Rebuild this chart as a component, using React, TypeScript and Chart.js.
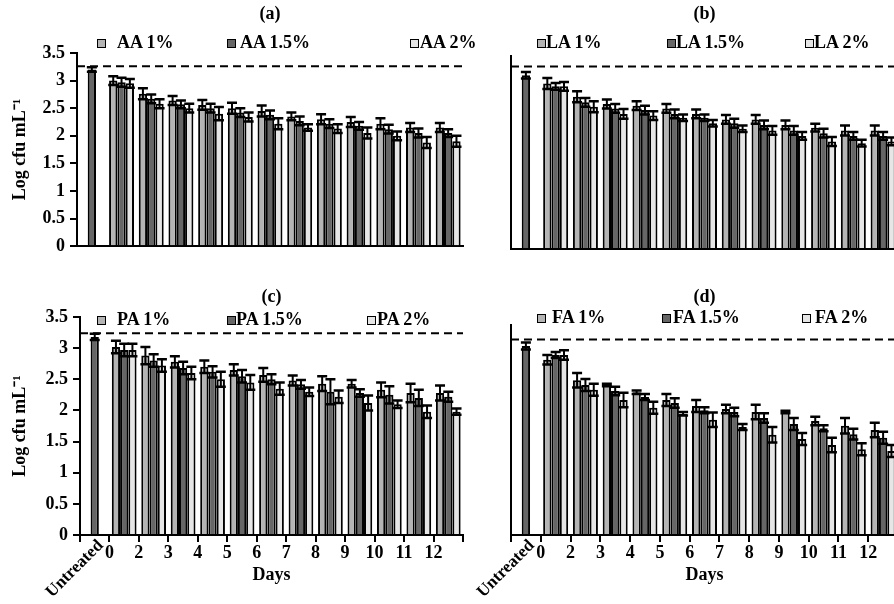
import React, { useEffect, useRef } from 'react';
import { Chart, registerables } from 'chart.js';

Chart.register(...registerables);

// ---------- data ----------
const categories = ['Untreated', '0', '2', '3', '4', '5', '6', '7', '8', '9', '10', '11', '12'];

const aaLabels = ['AA 1%', 'AA 1.5%', 'AA 2%'];
const aa1 = [null, 3.0, 2.76, 2.64, 2.56, 2.5, 2.45, 2.35, 2.3, 2.25, 2.22, 2.15, 2.15];
const aa15 = [3.2, 2.97, 2.67, 2.57, 2.5, 2.42, 2.38, 2.27, 2.22, 2.18, 2.12, 2.05, 2.05];
const aa2 = [null, 2.95, 2.58, 2.5, 2.4, 2.34, 2.22, 2.15, 2.13, 2.05, 2.0, 1.88, 1.9];
const aa1Err = [null, 0.08, 0.1, 0.08, 0.09, 0.1, 0.1, 0.07, 0.09, 0.09, 0.1, 0.08, 0.08];
const aa15Err = [0.04, 0.08, 0.08, 0.07, 0.08, 0.08, 0.08, 0.08, 0.08, 0.07, 0.08, 0.08, 0.07];
const aa2Err = [null, 0.08, 0.08, 0.08, 0.12, 0.08, 0.1, 0.06, 0.08, 0.1, 0.08, 0.1, 0.1];
const aaControl = 3.26;

const laLabels = ['LA 1%', 'LA 1.5%', 'LA 2%'];
const la1 = [null, 3.0, 2.76, 2.63, 2.6, 2.55, 2.45, 2.35, 2.35, 2.25, 2.2, 2.15, 2.15];
const la15 = [3.15, 2.95, 2.66, 2.55, 2.52, 2.45, 2.38, 2.28, 2.25, 2.15, 2.1, 2.05, 2.05];
const la2 = [null, 2.95, 2.58, 2.45, 2.42, 2.38, 2.28, 2.18, 2.15, 2.05, 1.95, 1.92, 1.95];
const la1Err = [null, 0.1, 0.1, 0.08, 0.08, 0.08, 0.08, 0.08, 0.08, 0.08, 0.07, 0.09, 0.09];
const la15Err = [0.06, 0.06, 0.08, 0.08, 0.08, 0.08, 0.06, 0.08, 0.08, 0.08, 0.08, 0.07, 0.07];
const la2Err = [null, 0.08, 0.1, 0.09, 0.08, 0.06, 0.06, 0.06, 0.08, 0.07, 0.08, 0.06, 0.07];
const laControl = 3.31;

const paLabels = ['PA 1%', 'PA 1.5%', 'PA 2%'];
const pa1 = [null, 3.02, 2.88, 2.78, 2.7, 2.65, 2.57, 2.48, 2.43, 2.43, 2.33, 2.28, 2.28];
const pa15 = [3.18, 2.97, 2.8, 2.68, 2.62, 2.55, 2.5, 2.42, 2.3, 2.28, 2.25, 2.2, 2.22];
const pa2 = [null, 2.97, 2.72, 2.6, 2.5, 2.45, 2.35, 2.3, 2.22, 2.12, 2.1, 1.98, 1.98];
const pa1Err = [null, 0.1, 0.14, 0.09, 0.1, 0.09, 0.11, 0.08, 0.12, 0.06, 0.12, 0.15, 0.12];
const pa15Err = [0.05, 0.1, 0.1, 0.1, 0.09, 0.1, 0.08, 0.07, 0.2, 0.06, 0.14, 0.13, 0.08];
const pa2Err = [null, 0.1, 0.1, 0.1, 0.12, 0.12, 0.1, 0.07, 0.1, 0.12, 0.06, 0.1, 0.05];
const paControl = 3.24;

const faLabels = ['FA 1%', 'FA 1.5%', 'FA 2%'];
const fa1 = [null, 2.92, 2.58, 2.5, 2.38, 2.25, 2.15, 2.1, 2.05, 2.05, 1.9, 1.82, 1.75];
const fa15 = [3.15, 3.0, 2.5, 2.4, 2.3, 2.2, 2.08, 2.05, 1.95, 1.85, 1.78, 1.68, 1.62];
const fa2 = [null, 3.0, 2.42, 2.25, 2.12, 2.02, 1.92, 1.8, 1.67, 1.6, 1.5, 1.43, 1.4];
const fa1Err = [null, 0.08, 0.12, 0.02, 0.03, 0.1, 0.1, 0.07, 0.12, 0.02, 0.07, 0.13, 0.12];
const fa15Err = [0.06, 0.05, 0.1, 0.07, 0.05, 0.08, 0.05, 0.07, 0.08, 0.1, 0.05, 0.09, 0.1];
const fa2Err = [null, 0.08, 0.1, 0.12, 0.1, 0.03, 0.12, 0.05, 0.13, 0.1, 0.12, 0.1, 0.1];
const faControl = 3.26;

const yMax = 3.5;
const yStep = 0.5;
const yTitle = 'Log cfu mL⁻¹';
const xTitle = 'Days';

// ---------- styles ----------
const FONT = '"Liberation Serif", "Times New Roman", serif';
const seriesColors = ['#b4b4b4', '#666666', '#e6e6e6'];

const errorBarsPlugin = {
  id: 'errorBars',
  afterDatasetsDraw(chart: any, _args: any, opts: any) {
    const errs = opts.errors || [];
    const y = chart.scales.y;
    const ctx = chart.ctx;
    ctx.save();
    ctx.strokeStyle = '#000';
    chart.data.datasets.forEach((ds: any, i: number) => {
      const meta = chart.getDatasetMeta(i);
      meta.data.forEach((el: any, j: number) => {
        const v = ds.data[j];
        const e = errs[i] ? errs[i][j] : null;
        if (v == null || e == null) return;
        const top = y.getPixelForValue(v + e);
        const bot = y.getPixelForValue(v - e);
        const x = el.x;
        const half = 5;
        ctx.lineWidth = 2;
        ctx.beginPath();
        ctx.moveTo(x, top);
        ctx.lineTo(x, bot);
        ctx.stroke();
        ctx.lineWidth = 2.5;
        ctx.beginPath();
        ctx.moveTo(x - half, top);
        ctx.lineTo(x + half, top);
        ctx.moveTo(x - half, bot);
        ctx.lineTo(x + half, bot);
        ctx.stroke();
      });
    });
    ctx.restore();
  },
};

const controlLinePlugin = {
  id: 'controlLine',
  afterDatasetsDraw(chart: any, _args: any, opts: any) {
    if (opts.value == null) return;
    const { ctx, chartArea } = chart;
    const yy = chart.scales.y.getPixelForValue(opts.value);
    ctx.save();
    ctx.strokeStyle = '#000';
    ctx.lineWidth = 2;
    ctx.setLineDash([8, 5]);
    ctx.beginPath();
    ctx.moveTo(chartArea.left, yy);
    ctx.lineTo(chartArea.right, yy);
    ctx.stroke();
    ctx.restore();
  },
};

const untreatedLabelPlugin = {
  id: 'untreatedLabel',
  afterDraw(chart: any, _args: any, opts: any) {
    if (!opts.display) return;
    const xs = chart.scales.x;
    const x = xs.getPixelForValue(0) + 6;
    const yy = xs.top + 8;
    const ctx = chart.ctx;
    ctx.save();
    ctx.translate(x, yy);
    ctx.rotate(-Math.PI / 4);
    ctx.font = `bold 17px ${FONT}`;
    ctx.fillStyle = '#000';
    ctx.textAlign = 'right';
    ctx.textBaseline = 'middle';
    ctx.fillText(opts.text, 0, 0);
    ctx.restore();
  },
};

type LegendPos = { y: number; items: { box: number; text: number }[] };

type PanelDef = {
  left: number;
  top: number;
  width: number;
  height: number;
  title: string;
  labels: string[];
  series: (number | null)[][];
  errors: (number | null)[][];
  control: number;
  showY: boolean;
  showX: boolean;
  yWidth: number;
  xHeight: number;
  rightPad: number;
  titlePad: { top: number; bottom: number };
  legend: LegendPos;
};

function Panel({ p }: { p: PanelDef }) {
  const ref = useRef<HTMLCanvasElement | null>(null);
  useEffect(() => {
    if (!ref.current) return;
    const font = { family: FONT, size: 18, weight: 'bold' as const };
    const chart = new Chart(ref.current, {
      type: 'bar',
      data: {
        labels: categories,
        datasets: p.series.map((d, i) => ({
          label: p.labels[i],
          data: d as any,
          backgroundColor: seriesColors[i],
          borderColor: '#000',
          borderWidth: 2,
          categoryPercentage: 0.84,
          barPercentage: 1,
        })),
      },
      options: {
        animation: false,
        responsive: false,
        devicePixelRatio: 1,
        layout: { padding: { left: 0, right: p.rightPad, top: 0, bottom: 0 } },
        plugins: {
          legend: { display: false },
          tooltip: { enabled: false },
          title: {
            display: true,
            text: p.title,
            fullSize: false,
            color: '#000',
            font,
            padding: p.titlePad,
          },
          errorBars: { errors: p.errors },
          controlLine: { value: p.control },
          untreatedLabel: { display: p.showX, text: categories[0] },
        } as any,
        scales: {
          x: {
            grid: {
              display: true,
              drawOnChartArea: false,
              drawTicks: p.showX,
              tickLength: 7,
              color: '#000',
              lineWidth: 2,
              offset: true,
            },
            border: { display: true, color: '#000', width: 2 },
            ticks: {
              display: p.showX,
              color: '#000',
              font,
              autoSkip: false,
              maxRotation: 0,
              minRotation: 0,
              padding: 1,
              labelOffset: -14.8,
              callback: (_v: any, i: number) => (i === 0 ? '' : categories[i]),
            },
            title: {
              display: p.showX,
              text: xTitle,
              color: '#000',
              font,
              padding: { top: 0, bottom: 18 },
            },
            afterFit: (s: any) => {
              s.height = p.xHeight;
            },
          },
          y: {
            min: 0,
            max: yMax,
            grid: {
              display: true,
              drawOnChartArea: false,
              drawTicks: p.showY,
              tickLength: 7,
              color: '#000',
              lineWidth: 2,
            },
            border: { display: true, color: '#000', width: 2 },
            ticks: {
              display: p.showY,
              stepSize: yStep,
              color: '#000',
              font,
              padding: 5,
              callback: (v: any) => String(Number(v)),
            },
            title: {
              display: p.showY,
              text: yTitle,
              color: '#000',
              font,
              padding: { top: 10, bottom: 0 },
            },
            afterFit: (s: any) => {
              s.width = p.yWidth;
            },
          },
        },
      },
      plugins: [errorBarsPlugin, controlLinePlugin, untreatedLabelPlugin],
    });
    return () => chart.destroy();
  }, [p]);

  return (
    <>
      <canvas
        ref={ref}
        width={p.width}
        height={p.height}
        style={{ position: 'absolute', left: p.left, top: p.top, width: p.width, height: p.height }}
      />
      {p.legend.items.map((it, i) => (
        <React.Fragment key={i}>
          <div
            style={{
              position: 'absolute',
              left: it.box,
              top: p.legend.y - 4,
              width: 9,
              height: 9,
              boxSizing: 'border-box',
              border: '1.5px solid #000',
              background: seriesColors[i],
            }}
          />
          <div
            style={{
              position: 'absolute',
              left: it.text,
              top: p.legend.y - 11,
              height: 22,
              lineHeight: '22px',
              font: `bold 18px ${FONT}`,
              color: '#000',
              whiteSpace: 'nowrap',
            }}
          >
            {p.labels[i]}
          </div>
        </React.Fragment>
      ))}
    </>
  );
}

const panels: PanelDef[] = [
  {
    left: 0, top: 0, width: 470, height: 262, title: '(a)', labels: aaLabels,
    series: [aa1, aa15, aa2], errors: [aa1Err, aa15Err, aa2Err], control: aaControl,
    showY: true, showX: false, yWidth: 77, xHeight: 11, rightPad: 7,
    titlePad: { top: 4, bottom: 27.4 },
    legend: { y: 43, items: [{ box: 97, text: 117 }, { box: 227, text: 240 }, { box: 410, text: 420 }] },
  },
  {
    left: 440, top: 0, width: 460, height: 262, title: '(b)', labels: laLabels,
    series: [la1, la15, la2], errors: [la1Err, la15Err, la2Err], control: laControl,
    showY: false, showX: false, yWidth: 71, xHeight: 13, rightPad: 2,
    titlePad: { top: 4, bottom: 30.4 },
    legend: { y: 43, items: [{ box: 537, text: 546 }, { box: 667, text: 676 }, { box: 805, text: 814 }] },
  },
  {
    left: 0, top: 280, width: 470, height: 324, title: '(c)', labels: paLabels,
    series: [pa1, pa15, pa2], errors: [pa1Err, pa15Err, pa2Err], control: paControl,
    showY: true, showX: true, yWidth: 80, xHeight: 69, rightPad: 7,
    titlePad: { top: 7, bottom: 8.4 },
    legend: { y: 320, items: [{ box: 97, text: 117 }, { box: 227, text: 236 }, { box: 367, text: 377 }] },
  },
  {
    left: 440, top: 280, width: 460, height: 324, title: '(d)', labels: faLabels,
    series: [fa1, fa15, fa2], errors: [fa1Err, fa15Err, fa2Err], control: faControl,
    showY: false, showX: true, yWidth: 71, xHeight: 69, rightPad: 2,
    titlePad: { top: 7, bottom: 16.4 },
    legend: { y: 318, items: [{ box: 537, text: 552 }, { box: 662, text: 673 }, { box: 802, text: 815 }] },
  },
];

export default function App() {
  return (
    <div
      style={{
        position: 'fixed',
        left: 0,
        top: 0,
        width: 894,
        height: 604,
        overflow: 'hidden',
        background: '#fff',
      }}
    >
      {panels.map((p, i) => (
        <Panel key={i} p={p} />
      ))}
    </div>
  );
}
